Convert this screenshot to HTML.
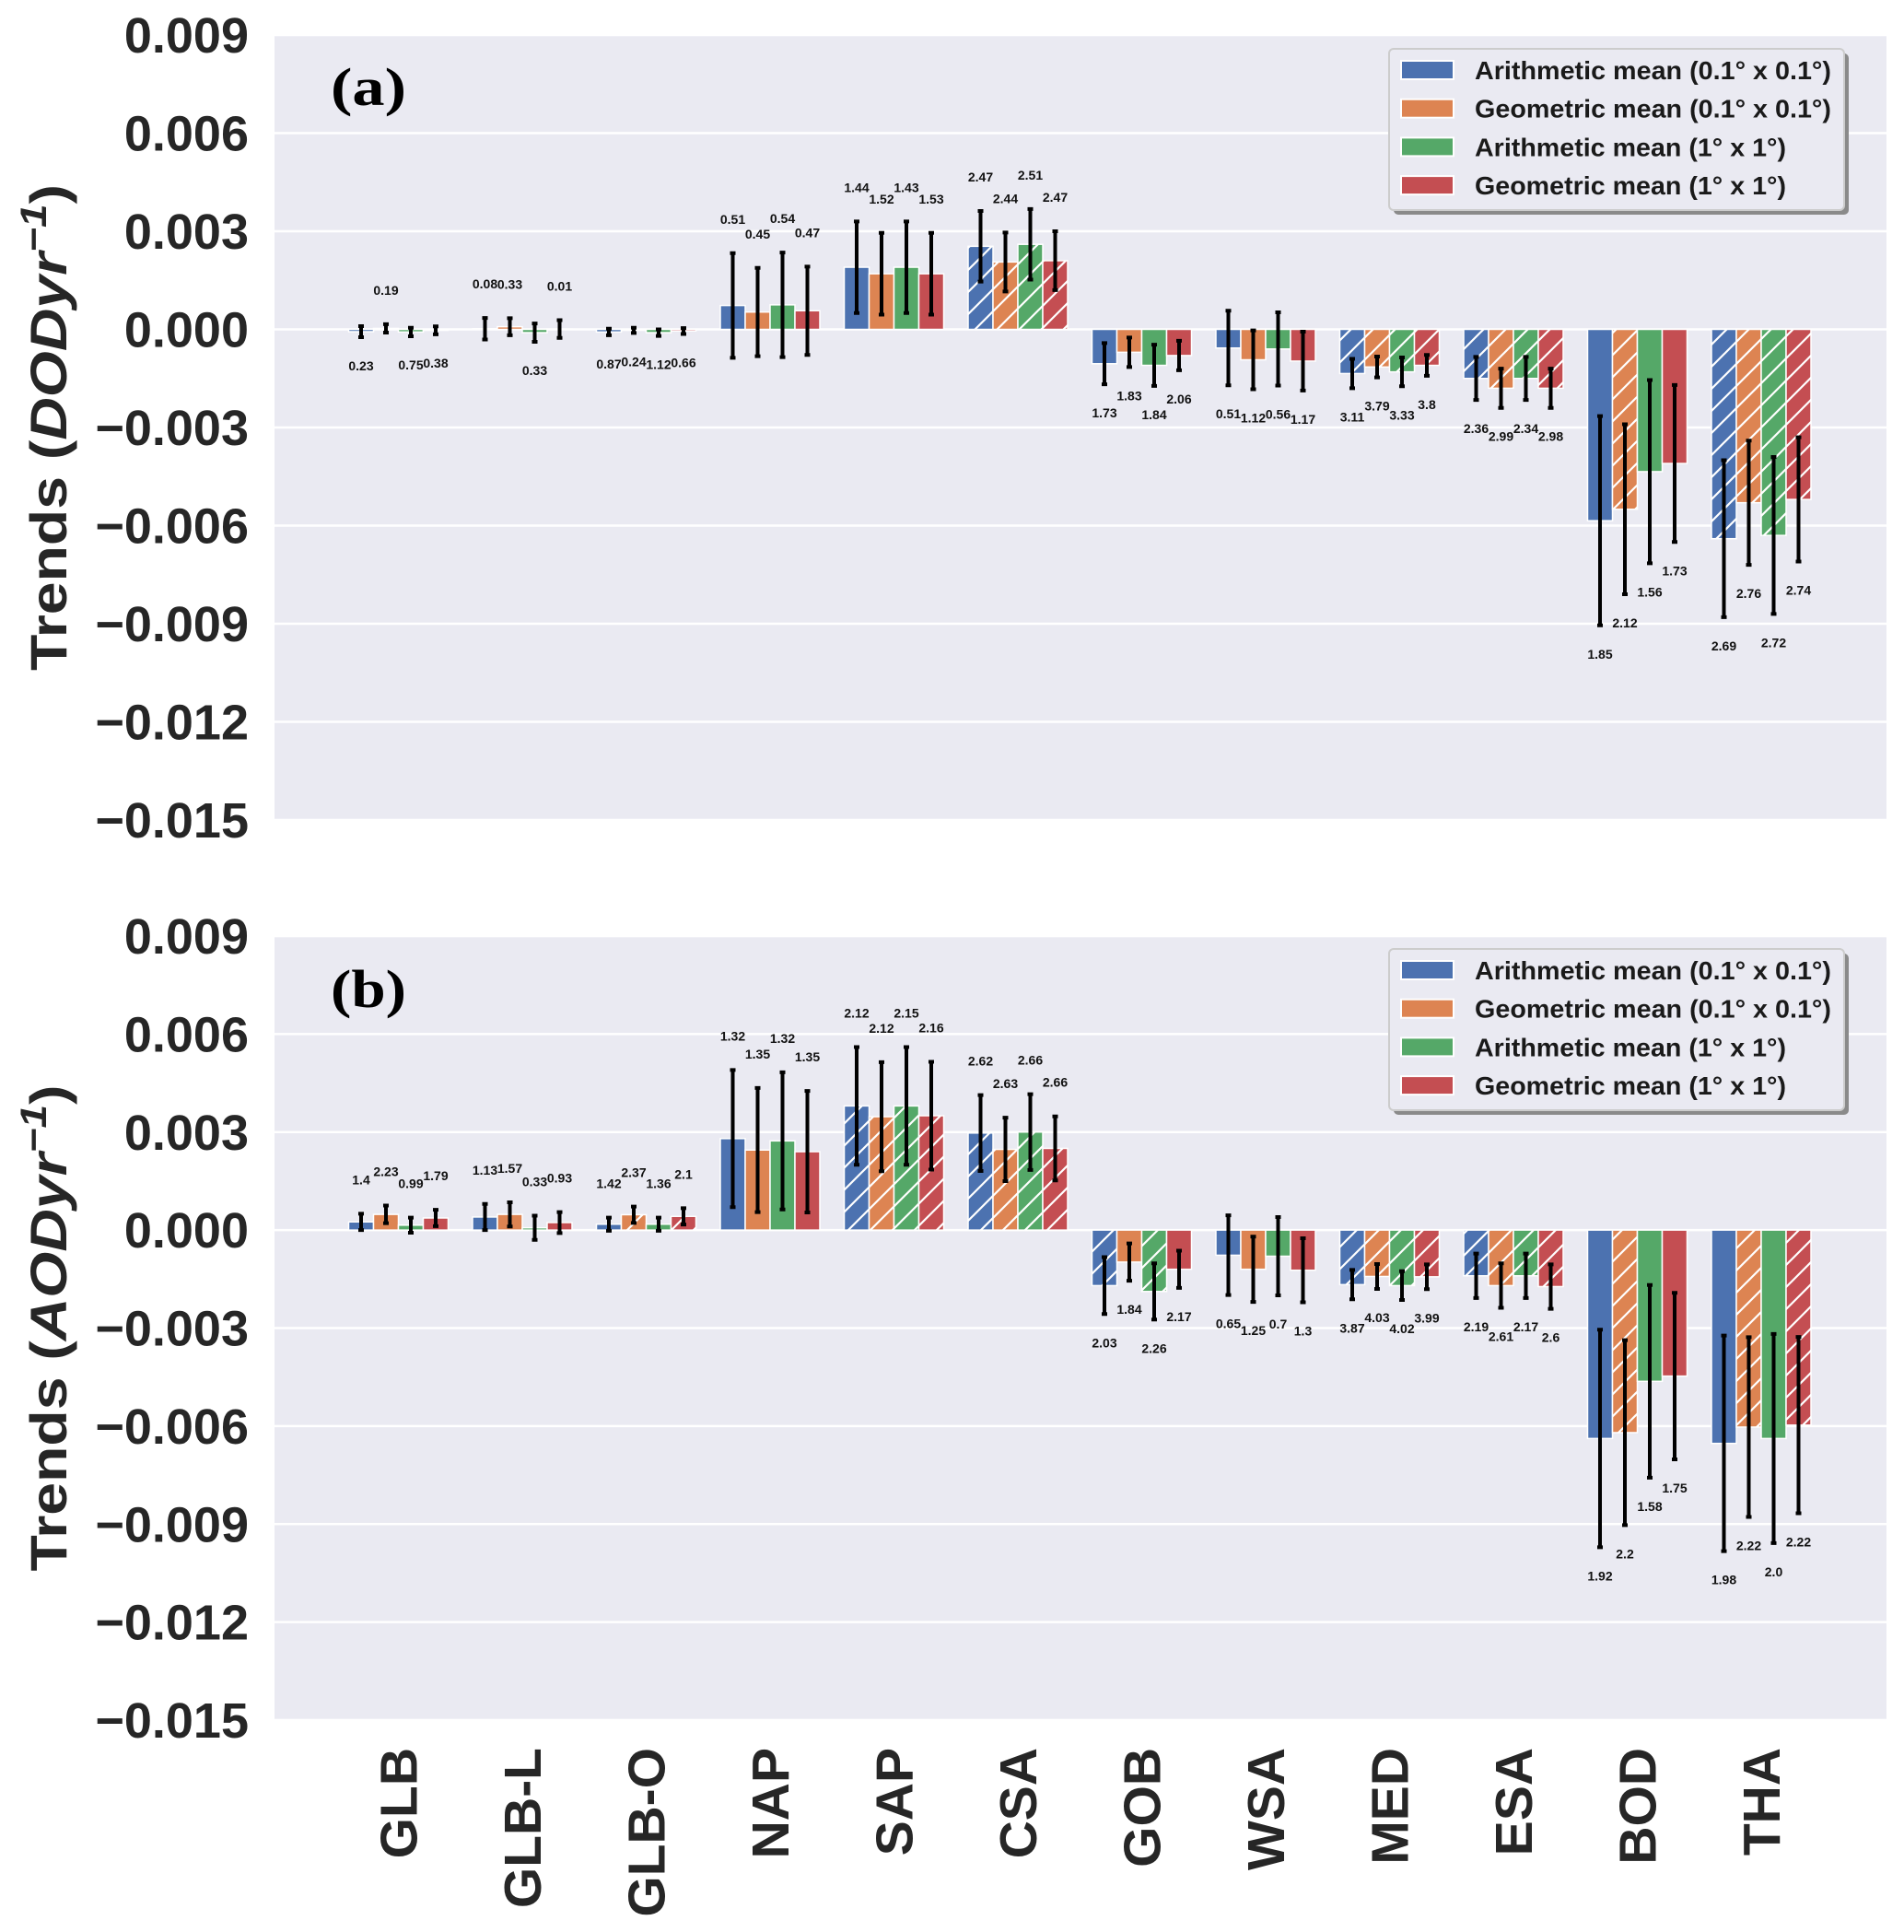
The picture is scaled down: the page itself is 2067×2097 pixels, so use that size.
<!DOCTYPE html>
<html><head><meta charset="utf-8">
<style>
html,body{margin:0;padding:0;background:#fff;}
svg{display:block;font-family:"Liberation Sans",Arial,sans-serif;}
</style></head>
<body>
<svg id="chart" width="2067" height="2097" viewBox="0 0 2067 2097" xmlns="http://www.w3.org/2000/svg">
<defs>
<pattern id="hatch" patternUnits="userSpaceOnUse" width="24" height="24">
<path d="M-6,6 L6,-6 M0,24 L24,0 M18,30 L30,18" stroke="#fff" stroke-width="2.2"/>
</pattern>
</defs>
</svg>
<script>
// ---------- data ----------
const categories = ["GLB","GLB-L","GLB-O","NAP","SAP","CSA","GOB","WSA","MED","ESA","BOD","THA"];
const seriesNames = ["Arithmetic mean (0.1° x 0.1°)","Geometric mean (0.1° x 0.1°)","Arithmetic mean (1° x 1°)","Geometric mean (1° x 1°)"];
const yTicks = [0.009,0.006,0.003,0,-0.003,-0.006,-0.009,-0.012,-0.015];
const yTickLabels = ["0.009","0.006","0.003","0.000","\u22120.003","\u22120.006","\u22120.009","\u22120.012","\u22120.015"];

// Panel (a) DOD
const dodArith01 = [-0.00007,0.00002,-0.00008,0.00073,0.0019,0.00254,-0.00105,-0.00057,-0.00135,-0.0015,-0.00585,-0.0064];
const dodGeo01   = [0.00003,0.00008,-0.00003,0.00053,0.0017,0.00206,-0.0007,-0.00093,-0.00115,-0.0018,-0.0055,-0.0053];
const dodArith1  = [-0.00008,-0.0001,-0.0001,0.00075,0.0019,0.0026,-0.0011,-0.0006,-0.0013,-0.0015,-0.00435,-0.0063];
const dodGeo1    = [-0.00003,0.00001,-0.00005,0.00057,0.0017,0.0021,-0.0008,-0.00097,-0.0011,-0.0018,-0.0041,-0.0052];
const dodErrArith01 = [0.00017,0.00033,0.0001,0.0016,0.0014,0.00108,0.00063,0.00114,0.00045,0.00066,0.0032,0.0024];
const dodErrGeo01   = [0.00013,0.00026,0.00008,0.00135,0.00125,0.0009,0.00045,0.0009,0.00032,0.0006,0.0026,0.0019];
const dodErrArith1  = [0.00013,0.00028,0.0001,0.0016,0.0014,0.00108,0.00063,0.00112,0.00044,0.00066,0.0028,0.0024];
const dodErrGeo1    = [0.00012,0.00027,0.00009,0.00135,0.00125,0.0009,0.00045,0.0009,0.00032,0.0006,0.0024,0.0019];
const dodLabels = [["0.23","0.19","0.75","0.38"],["0.08","0.33","0.33","0.01"],["0.87","0.24","1.12","0.66"],["0.51","0.45","0.54","0.47"],["1.44","1.52","1.43","1.53"],["2.47","2.44","2.51","2.47"],["1.73","1.83","1.84","2.06"],["0.51","1.12","0.56","1.17"],["3.11","3.79","3.33","3.8"],["2.36","2.99","2.34","2.98"],["1.85","2.12","1.56","1.73"],["2.69","2.76","2.72","2.74"]];
const dodHatch = [[0,0,0,0],[0,0,0,0],[0,0,0,0],[0,0,0,0],[0,0,0,0],[1,1,1,1],[0,0,0,0],[0,0,0,0],[1,1,1,1],[1,1,1,1],[0,1,0,0],[1,1,1,1]];

// Panel (b) AOD
const aodArith01 = [0.00025,0.0004,0.00018,0.0028,0.0038,0.00297,-0.0017,-0.00077,-0.00167,-0.0014,-0.00638,-0.00653];
const aodGeo01   = [0.00048,0.00048,0.00047,0.00245,0.00347,0.00247,-0.00098,-0.0012,-0.00142,-0.0017,-0.0062,-0.00603];
const aodArith1  = [0.00015,0.00007,0.00018,0.00273,0.0038,0.003,-0.00188,-0.0008,-0.0017,-0.0014,-0.00463,-0.00638];
const aodGeo1    = [0.00037,0.00023,0.00042,0.0024,0.0035,0.0025,-0.0012,-0.00123,-0.00143,-0.00173,-0.00447,-0.00597];
const aodErrArith01 = [0.00025,0.0004,0.0002,0.0021,0.0018,0.00116,0.00087,0.00122,0.00045,0.00068,0.00333,0.0033];
const aodErrGeo01   = [0.00027,0.00037,0.00025,0.0019,0.00167,0.00097,0.00057,0.001,0.00038,0.00068,0.00283,0.00275];
const aodErrArith1  = [0.00023,0.00037,0.0002,0.0021,0.0018,0.00116,0.00086,0.0012,0.00044,0.00068,0.00295,0.0032];
const aodErrGeo1    = [0.00025,0.00032,0.00025,0.00186,0.00165,0.00098,0.00057,0.00098,0.00038,0.00068,0.00255,0.0027];
const aodLabels = [["1.4","2.23","0.99","1.79"],["1.13","1.57","0.33","0.93"],["1.42","2.37","1.36","2.1"],["1.32","1.35","1.32","1.35"],["2.12","2.12","2.15","2.16"],["2.62","2.63","2.66","2.66"],["2.03","1.84","2.26","2.17"],["0.65","1.25","0.7","1.3"],["3.87","4.03","4.02","3.99"],["2.19","2.61","2.17","2.6"],["1.92","2.2","1.58","1.75"],["1.98","2.22","2.0","2.22"]];
const aodHatch = [[0,0,0,0],[0,0,0,0],[0,1,0,1],[0,0,0,0],[1,1,1,1],[1,1,1,1],[1,0,1,0],[0,0,0,0],[1,1,1,1],[1,1,1,1],[0,1,0,0],[0,1,0,1]];

const colors = ["#4c72b0","#dd8452","#55a868","#c44e52"];
const legendLens = [387,387,338,338];

// ---------- drawing ----------
const NS = "http://www.w3.org/2000/svg";
const svg = document.getElementById("chart");
function mk(tag, attrs, parent) {
  const e = document.createElementNS(NS, tag);
  for (const k in attrs) e.setAttribute(k, attrs[k]);
  (parent || svg).appendChild(e);
  return e;
}
const PL = 298, PR = 2048;
const xScale = i => PL + 134.5 * (i + 1);
const barW = 27;

function drawPanel(p) {
  const top = p.top, bottom = p.bottom;
  const yScale = v => top + (0.009 - v) / 0.024 * (bottom - top);
  const g = mk("g", {});
  
  
  const bg = mk("rect", {x: PL, y: top, width: PR - PL, height: bottom - top, fill: "#eaeaf2"}, g);
  
  
  yTicks.forEach((t, k) => {
    const y = yScale(t);
    const gl = mk("line", {x1: PL, x2: PR, y1: y, y2: y, stroke: "#fff", "stroke-width": 2.5}, g);
    
    
    const tl = mk("text", {x: 270, y: y + 19, "text-anchor": "end", "font-size": 54, "font-weight": "bold", fill: "#262626"}, g);
    tl.textContent = yTickLabels[k];
    
    
  });
  const series = [p.v0, p.v1, p.v2, p.v3];
  const errs = [p.e0, p.e1, p.e2, p.e3];
  categories.forEach((c, i) => {
    for (let s = 0; s < 4; s++) {
      const v = series[s][i], e = errs[s][i];
      const cx = xScale(i) + (s - 1.5) * barW;
      const y0 = yScale(0), y1 = yScale(v);
      const r = mk("rect", {x: cx - barW / 2, y: Math.min(y0, y1), width: barW, height: Math.max(Math.abs(y1 - y0), 0.5), fill: colors[s], stroke: "#fff", "stroke-width": 1.5}, g);
      
      
      if (p.hatch[i][s]) {
        const h = mk("rect", {x: cx - barW / 2, y: Math.min(y0, y1), width: barW, height: Math.abs(y1 - y0), fill: "url(#hatch)"}, g);
        
        
      }
      const yt = yScale(v + e), yb = yScale(v - e);
      const eb = mk("path", {d: `M${cx},${yt}V${yb}M${cx-3},${yt}H${cx+3}M${cx-3},${yb}H${cx+3}`, stroke: "#000", "stroke-width": 4, fill: "none"}, g);
      
      
      const ly = v >= 0 ? yt - 37 : yb + 31;
      const lt = mk("text", {x: cx, y: ly + 5, "text-anchor": "middle", "font-size": 14, "font-weight": "bold", fill: "#111"}, g);
      lt.textContent = p.labels[i][s];
      
      
    }
  });
  const pl = mk("text", {x: 359, y: p.letterY, "font-family": "'Liberation Serif',serif", "font-size": 58, "font-weight": "bold", fill: "#000", textLength: 82, lengthAdjust: "spacingAndGlyphs"}, g);
  pl.textContent = p.letter;
  
  
  const cy = (top + bottom) / 2;
  const yt = mk("text", {x: 0, y: 0, transform: `translate(72,${cy}) rotate(-90)`, "text-anchor": "middle", "font-size": 56, "font-weight": "bold", fill: "#262626", textLength: 528, lengthAdjust: "spacingAndGlyphs"}, g);
  
  
  const t1 = mk("tspan", {}, yt); t1.textContent = "Trends (";
  const t2 = mk("tspan", {"font-style": "italic"}, yt); t2.textContent = p.qty + "yr";
  const t3 = mk("tspan", {"font-style": "italic", dy: -22, "font-size": 40}, yt); t3.textContent = "\u22121";
  const t4 = mk("tspan", {dy: 22}, yt); t4.textContent = ")";
  const lg = mk("g", {}, g);
  
  
  const ly0 = p.legendTop;
  mk("rect", {x: 1513, y: ly0 + 5, width: 494, height: 175, rx: 5, fill: "#8a8a8a"}, lg);
  mk("rect", {x: 1508, y: ly0, width: 494, height: 175, rx: 5, fill: "#eaeaf2", stroke: "#cccccc", "stroke-width": 2}, lg);
  seriesNames.forEach((n, s) => {
    const ry = ly0 + 23 + s * 41.7;
    const le = mk("g", {}, lg);
    
    
    mk("rect", {x: 1521, y: ry - 10, width: 57, height: 20, fill: colors[s], stroke: "#fff", "stroke-width": 2}, le);
    const tx = mk("text", {x: 1601, y: ry + 10, "font-size": 28, "font-weight": "bold", fill: "#1a1a1a", textLength: legendLens[s], lengthAdjust: "spacingAndGlyphs"}, le);
    tx.textContent = n;
  });
}

drawPanel({name: "panel-a-dod", top: 38, bottom: 890, qty: "DOD", letter: "(a)", letterY: 114, legendTop: 53,
  v0: dodArith01, v1: dodGeo01, v2: dodArith1, v3: dodGeo1, e0: dodErrArith01, e1: dodErrGeo01, e2: dodErrArith1, e3: dodErrGeo1,
  labels: dodLabels, hatch: dodHatch});
drawPanel({name: "panel-b-aod", top: 1016, bottom: 1867, qty: "AOD", letter: "(b)", letterY: 1093, legendTop: 1030,
  v0: aodArith01, v1: aodGeo01, v2: aodArith1, v3: aodGeo1, e0: aodErrArith01, e1: aodErrGeo01, e2: aodErrArith1, e3: aodErrGeo1,
  labels: aodLabels, hatch: aodHatch});

categories.forEach((c, i) => {
  const x = xScale(i) + 20;
  const t = mk("text", {x: 0, y: 0, transform: `translate(${x},1897) rotate(-90)`, "text-anchor": "end", "font-size": 57, "font-weight": "bold", fill: "#262626"});
  t.textContent = c;
  
  
});
</script>
</body></html>
